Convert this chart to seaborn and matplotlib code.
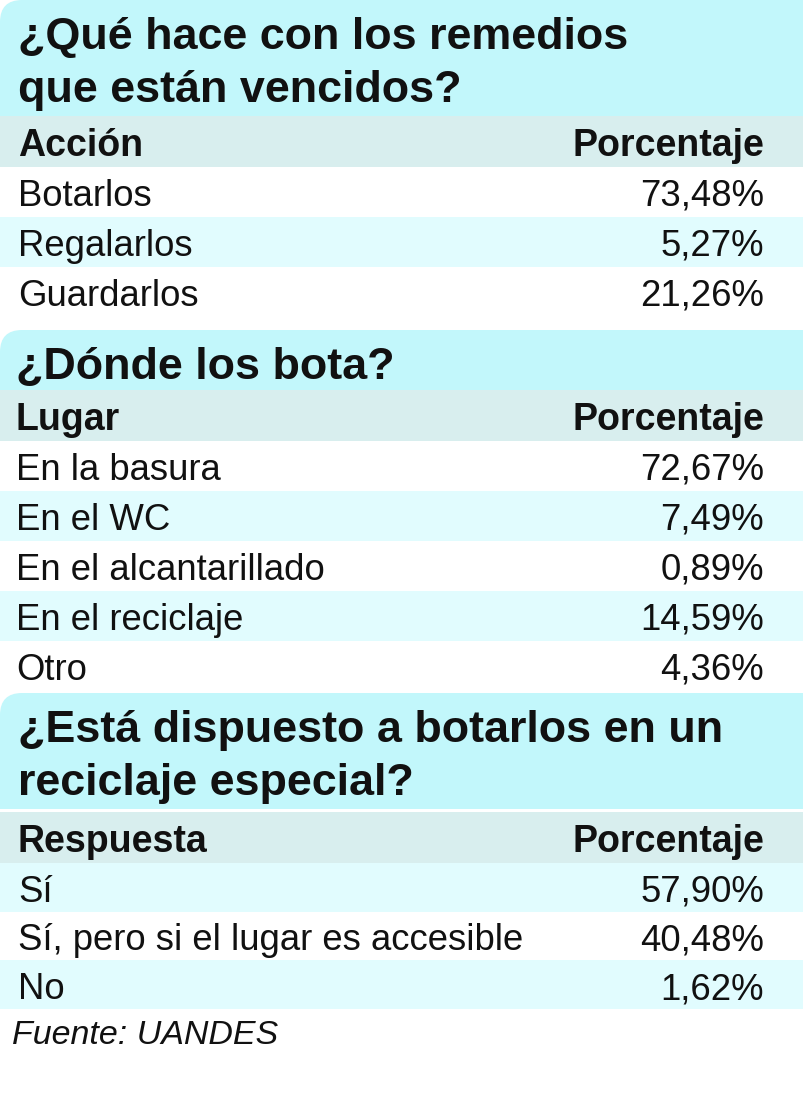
import matplotlib
matplotlib.use("Agg")
import matplotlib.pyplot as plt
import seaborn as sns
from matplotlib.patches import FancyBboxPatch, Rectangle

sns.set_theme(style="white")
FONT = ["Liberation Sans", "DejaVu Sans"]
plt.rcParams["font.family"] = FONT

# data
titulo_1 = ["¿Qué hace con los remedios", "que están vencidos?"]
cabecera_1 = ["Acción", "Porcentaje"]
acciones = ["Botarlos", "Regalarlos", "Guardarlos"]
pct_acciones = [73.48, 5.27, 21.26]

titulo_2 = ["¿Dónde los bota?"]
cabecera_2 = ["Lugar", "Porcentaje"]
lugares = ["En la basura", "En el WC", "En el alcantarillado", "En el reciclaje", "Otro"]
pct_lugares = [72.67, 7.49, 0.89, 14.59, 4.36]

titulo_3 = ["¿Está dispuesto a botarlos en un", "reciclaje especial?"]
cabecera_3 = ["Respuesta", "Porcentaje"]
respuestas = ["Sí", "Sí, pero si el lugar es accesible", "No"]
pct_respuestas = [57.90, 40.48, 1.62]

fuente = "Fuente: UANDES"

TITLE_BG = "#c2f7fb"
HEAD_BG = "#d8eeee"
ROW_BG = "#e1fcfe"
INK = "#111111"

W, H = 804, 1107
fig = plt.figure(figsize=(W / 100, H / 100), dpi=100)
ax = fig.add_axes([0, 0, 1, 1])
ax.set_xlim(0, W)
ax.set_ylim(H, 0)
ax.axis("off")


def fmt(v):
    return f"{v:.2f}".replace(".", ",") + "%"


def section(top, lines, head, labels, values, x0=18, gap=0, row_h=50, first_shaded=False):
    title_h = 60 if len(lines) == 1 else 116
    # title band, rounded top-left corner
    ax.add_patch(FancyBboxPatch((0, top), W + 40, title_h, boxstyle="round,pad=0,rounding_size=22",
                                fc=TITLE_BG, ec="none"))
    ax.add_patch(Rectangle((0, top + 30), W, title_h - 30, fc=TITLE_BG, ec="none"))
    for k, line in enumerate(lines):
        ax.text(x0, top + 49 + 53 * k, line, fontsize=32.3, fontweight="bold", va="baseline",
                ha="left", color=INK)
    y = top + title_h + gap
    ax.add_patch(Rectangle((0, y), W, 51, fc=HEAD_BG, ec="none"))
    ax.text(x0, y + 40, head[0], fontsize=27, fontweight="bold", va="baseline", color=INK)
    ax.text(764, y + 40, head[1], fontsize=27, fontweight="bold", va="baseline", ha="right", color=INK)
    y += 51
    for i, (lab, val) in enumerate(zip(labels, values)):
        if (i % 2 == 0) == first_shaded:
            ax.add_patch(Rectangle((0, y), W, row_h, fc=ROW_BG, ec="none"))
        ax.text(x0, y + 39, lab, fontsize=26.3, va="baseline", color=INK)
        ax.text(764, y + 39, fmt(val), fontsize=26.3, va="baseline", ha="right", color=INK)
        y += row_h
    return y


section(0, titulo_1, cabecera_1, acciones, pct_acciones)
section(330, titulo_2, cabecera_2, lugares, pct_lugares, x0=16)
end = section(693, titulo_3, cabecera_3, respuestas, pct_respuestas, gap=3, row_h=48.5,
              first_shaded=True)
ax.text(12, end + 36, fuente, fontsize=24.5, style="italic", va="baseline", color=INK)

fig.savefig("out.png", dpi=100)
